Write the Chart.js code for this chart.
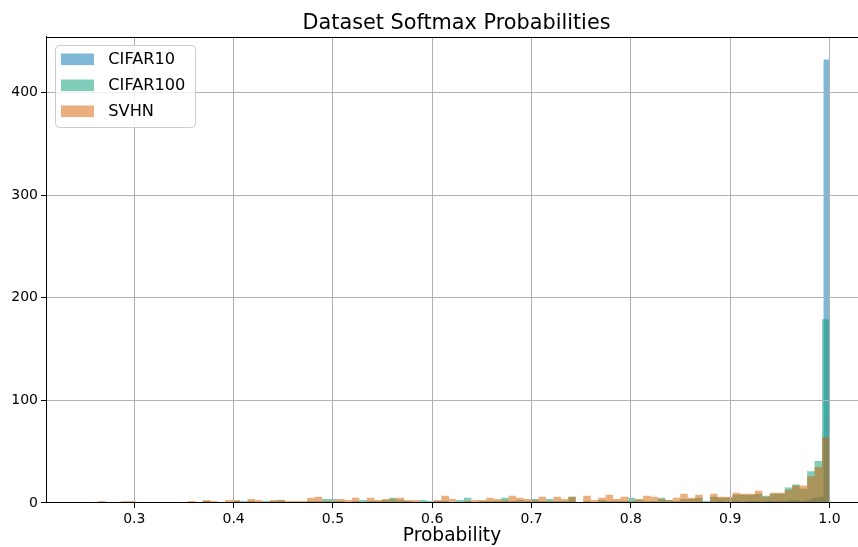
<!DOCTYPE html>
<html>
<head>
<meta charset="utf-8">
<title>Dataset Softmax Probabilities</title>
<script src="https://cdn.jsdelivr.net/npm/chart.js@4.4.0/dist/chart.umd.min.js"></script>
<style>
  html, body { margin: 0; padding: 0; background: #ffffff; }
  #wrap { width: 858px; height: 547px; position: relative; }
</style>
</head>
<body>
<div id="wrap"><canvas id="chart" width="858" height="547"></canvas></div>
<script>
// Histogram counts per bin (100 equal-width bins per dataset)
const seriesNames = ['CIFAR10', 'CIFAR100', 'SVHN'];

const cifar10Counts = [
  1, 0, 0, 0, 0, 1, 0, 0, 0, 0,
  0, 0, 1, 0, 0, 0, 0, 1, 0, 0,
  0, 1, 0, 0, 0, 0, 1, 0, 0, 1,
  0, 0, 0, 1, 0, 0, 0, 1, 0, 0,
  1, 0, 0, 0, 1, 0, 0, 1, 0, 0,
  0, 1, 0, 1, 0, 0, 1, 0, 1, 0,
  0, 1, 0, 1, 0, 1, 0, 1, 1, 0,
  1, 0, 1, 1, 0, 1, 1, 0, 1, 1,
  1, 2, 1, 1, 2, 1, 2, 2, 1, 2,
  2, 2, 2, 3, 3, 2, 3, 5, 6, 432
];

const cifar100Counts = [
  0, 0, 1, 0, 0, 1, 1, 1, 1, 0,
  0, 0, 1, 1, 1, 1, 2, 1, 0, 1,
  2, 2, 2, 1, 2, 2, 3, 1, 1, 1,
  2, 2, 4, 4, 2, 1, 2, 3, 2, 2,
  3, 5, 3, 2, 1, 3, 2, 2, 2, 1,
  3, 5, 1, 2, 2, 2, 5, 2, 3, 2,
  4, 2, 4, 2, 2, 6, 1, 2, 1, 3,
  2, 2, 2, 5, 3, 2, 2, 5, 3, 2,
  4, 4, 5, 2, 6, 5, 5, 8, 8, 8,
  9, 7, 9, 9, 15, 18, 14, 31, 41, 179
];

const svhnCounts = [
  1, 1, 2, 0, 1, 2, 2, 1, 1, 0,
  0, 0, 1, 1, 2, 1, 3, 2, 1, 3,
  3, 1, 4, 3, 1, 3, 3, 2, 2, 2,
  5, 6, 2, 2, 4, 3, 5, 1, 5, 3,
  4, 4, 5, 3, 3, 1, 1, 3, 7, 4,
  1, 2, 3, 3, 5, 4, 3, 7, 5, 4,
  3, 6, 2, 6, 4, 6, 1, 7, 3, 5,
  8, 4, 6, 2, 4, 7, 6, 4, 3, 5,
  9, 5, 8, 0, 9, 6, 6, 10, 9, 9,
  12, 6, 10, 10, 13, 17, 17, 26, 35, 64
];

// Value range covered by each dataset's bins
const cifar10Range = [0.40, 1.0];
const cifar100Range = [0.2487, 1.0];
const svhnRange = [0.2487, 1.0];

// Axes
const xTickValues = [0.3, 0.4, 0.5, 0.6, 0.7, 0.8, 0.9, 1.0];
const xTickLabels = ['0.3', '0.4', '0.5', '0.6', '0.7', '0.8', '0.9', '1.0'];
const yTickValues = [0, 100, 200, 300, 400];
const yTickLabels = ['0', '100', '200', '300', '400'];
const xLimits = [0.2111, 1.0287];
const yLimits = [0, 454];

const seriesColors = ['rgba(1,115,178,0.5)', 'rgba(2,158,115,0.5)', 'rgba(213,94,0,0.5)'];

// Turn bin counts into step points at each bin's left edge (plus the final right edge)
function binSteps(counts, range) {
  const n = counts.length;
  const w = (range[1] - range[0]) / n;
  const pts = counts.map((c, i) => ({ x: range[0] + i * w, y: c }));
  pts.push({ x: range[1], y: counts[n - 1] });
  return pts;
}

const FONT = '"DejaVu Sans", "Liberation Sans", sans-serif';
Chart.defaults.font.family = FONT;
Chart.defaults.color = '#000000';

function histDataset(idx, counts, range, order) {
  return {
    label: seriesNames[idx],
    data: binSteps(counts, range),
    backgroundColor: seriesColors[idx],
    borderColor: 'rgba(0,0,0,0)',
    borderWidth: 0,
    showLine: false,
    pointRadius: 0,
    pointHoverRadius: 0,
    stepped: 'before',
    tension: 0,
    fill: 'origin',
    order: order
  };
}

// Top frame line and in-plot legend
const framePlugin = {
  id: 'frameAndLegend',
  afterLayout(chart) {
    const t = chart.titleBlock;
    if (t) { t.left += 4.5; t.right += 4.5; }
  },
  afterDraw(chart) {
    const ctx = chart.ctx;
    const a = chart.chartArea;
    ctx.save();
    ctx.strokeStyle = '#000000';
    ctx.lineWidth = 1;
    ctx.beginPath();
    const ty = Math.round(a.top) + 0.5;
    ctx.moveTo(a.left, ty);
    ctx.lineTo(a.right, ty);
    ctx.stroke();

    // legend frame
    const bx = 55.5, by = 45.5, bw = 140, bh = 82, r = 4;
    ctx.beginPath();
    ctx.moveTo(bx + r, by);
    ctx.lineTo(bx + bw - r, by);
    ctx.arcTo(bx + bw, by, bx + bw, by + r, r);
    ctx.lineTo(bx + bw, by + bh - r);
    ctx.arcTo(bx + bw, by + bh, bx + bw - r, by + bh, r);
    ctx.lineTo(bx + r, by + bh);
    ctx.arcTo(bx, by + bh, bx, by + bh - r, r);
    ctx.lineTo(bx, by + r);
    ctx.arcTo(bx, by, bx + r, by, r);
    ctx.closePath();
    ctx.fillStyle = 'rgba(255,255,255,0.8)';
    ctx.fill();
    ctx.strokeStyle = '#cccccc';
    ctx.stroke();

    const rows = [59.3, 85.3, 111.3];
    ctx.font = '16.2px ' + FONT;
    ctx.textBaseline = 'middle';
    ctx.textAlign = 'left';
    chart.data.datasets.forEach((ds, i) => {
      const cy = rows[i];
      ctx.fillStyle = ds.backgroundColor;
      ctx.fillRect(61, cy - 5.8, 33, 11.6);
      ctx.fillStyle = '#000000';
      ctx.fillText(ds.label, 108.3, cy + 0.5);
    });
    ctx.restore();
  }
};

new Chart(document.getElementById('chart'), {
  type: 'line',
  data: {
    datasets: [
      histDataset(0, cifar10Counts, cifar10Range, 2),
      histDataset(1, cifar100Counts, cifar100Range, 1),
      histDataset(2, svhnCounts, svhnRange, 0)
    ]
  },
  options: {
    responsive: false,
    animation: false,
    devicePixelRatio: 1,
    events: [],
    layout: { padding: 0 },
    plugins: {
      legend: { display: false },
      tooltip: { enabled: false },
      title: {
        display: true,
        text: 'Dataset Softmax Probabilities',
        fullSize: false,
        color: '#000000',
        font: { size: 20.8, weight: 'normal', family: FONT },
        padding: { top: 11, bottom: 1 }
      }
    },
    scales: {
      x: {
        type: 'linear',
        min: xLimits[0],
        max: xLimits[1],
        afterBuildTicks(scale) { scale.ticks = xTickValues.map(v => ({ value: v })); },
        afterFit(scale) { scale.height = 44; },
        ticks: {
          autoSkip: false,
          maxRotation: 0,
          padding: 3,
          color: '#000000',
          font: { size: 14 },
          callback: (v, i) => xTickLabels[i]
        },
        grid: { color: '#b0b0b0', lineWidth: 1, tickColor: '#000000', tickLength: 5, tickWidth: 1, z: 1 },
        border: { display: true, color: '#000000', width: 1, z: 2 },
        title: {
          display: true,
          text: 'Probability',
          color: '#000000',
          font: { size: 18.6, weight: 'normal' },
          padding: { top: 0, bottom: 0 }
        }
      },
      y: {
        type: 'linear',
        min: yLimits[0],
        max: yLimits[1],
        afterBuildTicks(scale) { scale.ticks = yTickValues.map(v => ({ value: v })); },
        afterFit(scale) { scale.width = 46; },
        ticks: {
          autoSkip: false,
          padding: 3,
          color: '#000000',
          font: { size: 14 },
          callback: (v, i) => yTickLabels[i]
        },
        grid: { color: '#b0b0b0', lineWidth: 1, tickColor: '#000000', tickLength: 5, tickWidth: 1, z: 1 },
        border: { display: true, color: '#000000', width: 1, z: 2 }
      }
    }
  },
  plugins: [framePlugin]
});
</script>
</body>
</html>
